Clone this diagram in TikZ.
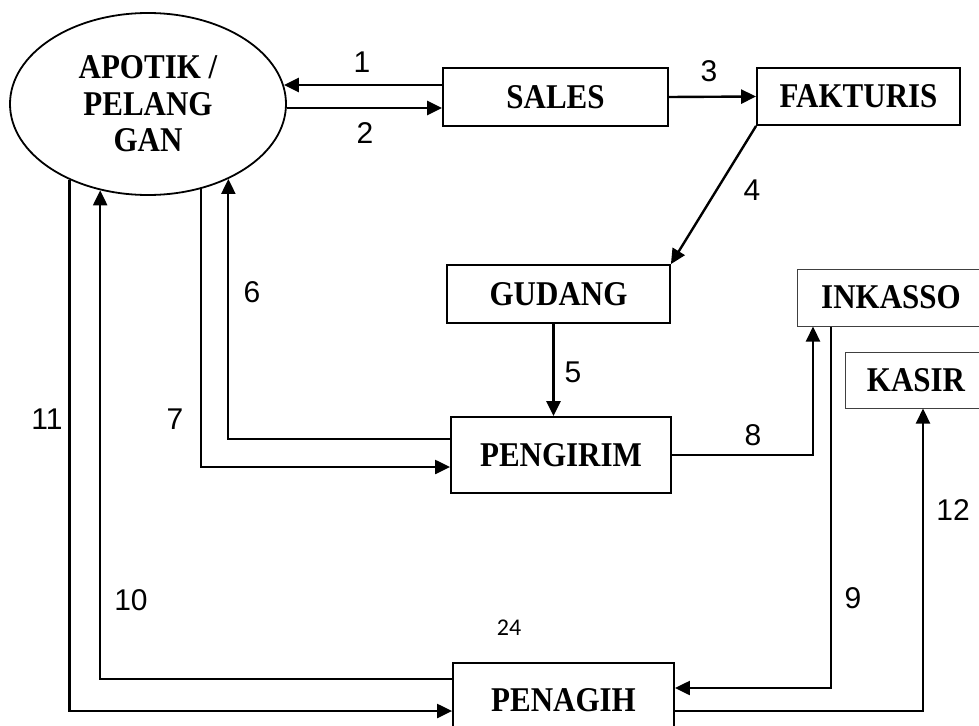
\documentclass[tikz,border=0pt]{standalone}
\usepackage{graphicx}
\usepackage{fontspec}
\setmainfont{Liberation Serif}
\newfontfamily\arialf{Liberation Sans}
\newfontfamily\calibf{Carlito}
\usetikzlibrary{arrows.meta,shapes.geometric}
\newcommand\talltext[1]{\scalebox{1}[1.12]{#1}}
\tikzset{
  boxfont/.style={font=\bfseries\fontsize{31}{36}\selectfont},
  procbox/.style={draw, line width=1.8pt, rectangle, inner sep=0pt, boxfont},
  thinbox/.style={draw=black!75, line width=1pt, rectangle, inner sep=0pt, boxfont},
  numlbl/.style={font=\arialf\fontsize{30}{36}\selectfont, inner sep=0pt},
  tip/.style={-{Triangle[length=15pt,width=14pt]}},
  flow/.style={line width=2.4pt, tip},
  flowplain/.style={line width=2.2pt, tip},
}
\begin{document}
\begin{tikzpicture}[x=1pt,y=-1pt]
\useasboundingbox (0,0) rectangle (979,725);
% nodes
\node[ellipse, draw, line width=1.8pt, minimum width=276pt, minimum height=182pt, inner sep=0pt, align=center, font=\bfseries\fontsize{31}{36.5}\selectfont] (ell) at (148,104) {\talltext{APOTIK /}\\\talltext{PELANG}\\\talltext{GAN}};
\node[procbox, minimum width=225pt, minimum height=58pt] (sales) at (555.5,97) {\talltext{SALES}};
\node[procbox, minimum width=203pt, minimum height=57pt] (fakt) at (858.5,96.5) {\talltext{FAKTURIS}};
\node[procbox, minimum width=223pt, minimum height=58pt] (gud) at (558.5,294) {\talltext{GUDANG}};
\node[thinbox, minimum width=188pt, minimum height=57pt] (ink) at (891,297.5) {\talltext{INKASSO}};
\node[thinbox, minimum width=142pt, minimum height=56pt] (kas) at (916,380) {\talltext{KASIR}};
\node[procbox, minimum width=220pt, minimum height=76pt] (peng) at (561,455) {\talltext{PENGIRIM}};
\node[procbox, minimum width=221pt, minimum height=74pt] (pen) at (563.5,700) {\talltext{PENAGIH}};
% connectors
\draw[flow] ([yshift=12pt]sales.west) -- ([yshift=12pt]sales.west -| ell.8);
\draw[flow] ([yshift=-4pt]ell.east) -- ([yshift=-4pt]ell.east -| sales.west);
\draw[flow] (sales.east) -- (fakt.west);
\draw[flow] (fakt.south west) -- (gud.north east);
\draw[flow] ([xshift=-5pt]gud.south) -- ([xshift=-5pt]gud.south |- peng.north);
\draw[flowplain] ([yshift=16pt]peng.west) -| (ell.-43);
\draw[flowplain] (ell.-58) |- ([yshift=-12pt]peng.west);
\draw[flowplain] (peng.east) -| ([xshift=-78pt]ink.south);
\draw[flowplain] ([xshift=-60pt]ink.south) |- ([yshift=12pt]pen.east);
\draw[flowplain] ([yshift=21pt]pen.west) -| (ell.-119);
\draw[flowplain] (ell.-136) |- ([yshift=-11pt]pen.west);
\draw[flowplain] ([yshift=-11pt]pen.east) -| ([xshift=7pt]kas.south);
% labels
\node[numlbl] (l1) at (362,62) {1};
\node[numlbl] (l2) at (365,133) {2};
\node[numlbl] (l3) at (709,71) {3};
\node[numlbl] (l4) at (752,190) {4};
\node[numlbl] (l5) at (573,372) {5};
\node[numlbl] (l6) at (252,292) {6};
\node[numlbl] (l7) at (175,419) {7};
\node[numlbl] (l8) at (753,435) {8};
\node[numlbl] (l9) at (853,598) {9};
\node[numlbl] (l10) at (131,600) {10};
\node[numlbl] (l11) at (47,419) {11};
\node[numlbl] (l12) at (953,510) {12};
\node[font=\calibf\fontsize{24}{28}\selectfont, inner sep=0pt] (l24) at (509,628) {24};
\end{tikzpicture}
\end{document}
